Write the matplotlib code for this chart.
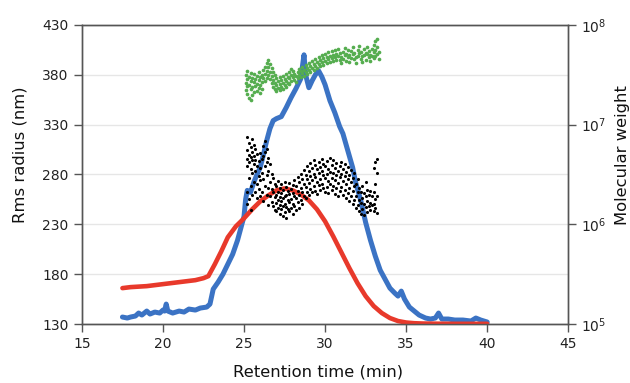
import matplotlib
matplotlib.use("Agg")
import matplotlib.pyplot as plt

# blue trace (read in left-axis units)
blue_t = [17.5, 17.8, 18.0, 18.3, 18.5, 18.7, 19.0, 19.2, 19.5, 19.8, 20.0, 20.1, 20.2, 20.3,
          20.6, 21.0, 21.3, 21.6, 22.0, 22.3, 22.7, 22.9, 23.1, 23.4, 23.7, 24.0, 24.3, 24.6,
          24.8, 25.0, 25.1, 25.2, 25.4, 25.6, 25.8, 26.0, 26.2, 26.4, 26.6, 26.8, 27.0, 27.3,
          27.6, 27.9, 28.2, 28.5, 28.7, 28.8, 29.0, 29.2, 29.4, 29.6, 29.8, 30.0, 30.3, 30.6,
          30.9, 31.1, 31.4, 31.7, 31.9, 32.2, 32.5, 32.8, 33.1, 33.4, 33.7, 34.0, 34.3, 34.5,
          34.7, 34.9, 35.2, 35.5, 35.8, 36.2, 36.5, 36.8, 37.0, 37.2, 37.6, 38.0, 38.5, 39.0,
          39.3, 39.6, 40.0]
blue_v = [137, 136, 137, 138, 141, 139, 143, 140, 142, 141, 144, 143, 150, 143,
          141, 143, 142, 145, 144, 146, 147, 150, 165, 172, 180, 190, 200, 214,
          226, 238, 255, 264, 262, 272, 280, 287, 300, 314, 326, 334, 336, 338,
          347, 357, 366, 376, 400, 380, 367, 374, 380, 384, 378, 370, 354, 342,
          328, 321, 304, 287, 271, 254, 232, 214, 198, 184, 175, 166, 161, 158,
          163, 155, 147, 143, 139, 136, 135, 136, 141, 135, 135, 134, 134, 133,
          136, 134, 132]

# red trace
red_t = [17.5, 18.0, 19.0, 20.0, 21.0, 22.0, 22.5, 22.8, 23.2, 23.6, 24.0, 24.5, 25.0, 25.5,
         26.0, 26.5, 27.0, 27.5, 28.0, 28.5, 29.0, 29.5, 30.0, 30.5, 31.0, 31.5, 32.0, 32.5,
         33.0, 33.5, 34.0, 34.5, 35.0, 35.5, 36.0, 37.0, 38.0, 40.0]
red_v = [166, 167, 168, 170, 172, 174, 176, 178, 190, 203, 217, 228, 236, 245,
         253, 259, 264, 266, 264, 260, 254, 245, 233, 218, 202, 186, 171, 158,
         148, 141, 136, 133, 131.5, 130.8, 130.5, 130.3, 130.2, 130.2]

# rms radius points (nm)
rms_t = [25.2]*6 + [25.3]*5 + [25.4]*5 + [25.5]*5 + [25.6]*4 + [25.7]*4 + [25.8]*4 + [25.9]*3 + \
        [26.0]*4 + [26.1]*3 + [26.2]*4 + [26.3]*4 + [26.4]*4 + [26.5]*4 + [26.6]*3 + [26.7]*3 + \
        [26.8]*3 + [26.9]*3 + [27.0]*4 + [27.1]*4 + [27.2]*4 + [27.3]*4 + [27.4]*4 + [27.5]*4 + \
        [27.6]*4 + [27.7]*3 + [27.8]*4 + [27.9]*3 + [28.0]*4 + [28.1]*3 + [28.2]*3 + [28.3]*3 + \
        [28.4]*3 + [28.5]*3 + [28.6]*3 + [28.7]*3 + [28.8]*3 + [28.9]*3 + [29.0]*3 + [29.1]*3 + \
        [29.2]*3 + [29.3]*3 + [29.4]*3 + [29.5]*3 + [29.6]*3 + [29.7]*3 + [29.8]*3 + [29.9]*3 + \
        [30.0]*3 + [30.1]*3 + [30.2]*3 + [30.3]*3 + [30.4]*3 + [30.5]*3 + [30.6]*3 + [30.7]*3 + \
        [30.8]*3 + [30.9]*3 + [31.0]*3 + [31.1]*3 + [31.2]*3 + [31.3]*3 + [31.4]*3 + [31.5]*3 + \
        [31.6]*3 + [31.7]*3 + [31.8]*3 + [31.9]*3 + [32.0]*3 + [32.1]*3 + [32.2]*3 + [32.3]*3 + \
        [32.4]*3 + [32.5]*3 + [32.6]*3 + [32.7]*2 + [32.8]*3 + [32.9]*2 + [33.0]*4 + [33.1]*4 + \
        [33.2]*4
rms_v = [318, 305, 296, 288, 262, 250,  312, 300, 292, 276, 255,  308, 298, 285, 268, 244,
         316, 303, 294, 281, 259,  310, 299, 290, 272,  306, 295, 283, 262,  301, 288, 270, 256,
         293, 278, 265,  302, 286, 274, 258,  296, 281, 262,  309, 299, 275, 253,
         314, 303, 288, 268,  306, 292, 279, 259,  297, 283, 266, 249,  290, 272, 258,
         280, 265, 252,  276, 262, 248,  270, 257, 244,  268, 259, 251, 243,
         273, 262, 254, 246,  266, 257, 249, 240,  270, 261, 253, 245,  264, 256, 248, 238,
         272, 258, 250, 242,  267, 259, 247, 236,  263, 254, 245,  271, 260, 252, 243,
         265, 255, 246,  269, 261, 250, 240,  274, 258, 248,  268, 256, 244,  277, 263, 252,
         272, 259, 246,  280, 266, 254,  275, 262, 250,  284, 270, 258,  279, 267, 256,
         288, 275, 262,  283, 271, 259,  291, 278, 265,  286, 274, 262,  294, 280, 268,
         289, 277, 263,  285, 272, 260,  292, 281, 269,  287, 275, 264,  296, 283, 270,
         290, 279, 266,  288, 276, 262,  293, 280, 267,  285, 273, 261,  297, 282, 270,
         289, 276, 264,  294, 281, 268,  286, 274, 260,  291, 279, 266,  283, 271, 258,
         288, 277, 263,  292, 280, 267,  285, 273, 259,  290, 278, 264,  282, 270, 256,
         287, 275, 261,  279, 266, 253,  284, 272, 258,  276, 263, 250,  281, 268, 254,
         270, 258, 246,  275, 262, 249,  266, 254, 243,  262, 251, 240,  268, 256, 245,
         261, 250, 239,  272, 258, 247,  264, 253, 242,  259, 248,  263, 251, 244,  258, 249,
         286, 262, 250, 243,  292, 270, 255, 246,  296, 281, 258, 241]

# molecular weight points, log10(MW)
mw_t = [25.1]*3 + [25.2]*4 + [25.3]*3 + [25.4]*4 + [25.5]*3 + [25.6]*3 + [25.7]*2 + [25.8]*3 + \
       [25.9]*3 + [26.0]*3 + [26.1]*3 + [26.2]*2 + [26.3]*3 + [26.4]*3 + [26.5]*3 + [26.6]*3 + \
       [26.7]*3 + [26.8]*3 + [26.9]*3 + [27.0]*3 + [27.1]*2 + [27.2]*3 + [27.3]*2 + [27.4]*3 + \
       [27.5]*2 + [27.6]*3 + [27.7]*2 + [27.8]*3 + [27.9]*3 + [28.0]*2 + [28.1]*2 + [28.2]*2 + \
       [28.3]*2 + [28.4]*2 + [28.5]*2 + [28.6]*2 + [28.7]*2 + [28.8]*2 + [28.9]*2 + [29.0]*2 + \
       [29.1]*2 + [29.2]*2 + [29.3]*2 + [29.4]*2 + [29.5]*2 + [29.6]*2 + [29.7]*2 + [29.8]*2 + \
       [29.9]*2 + [30.0]*2 + [30.1]*2 + [30.2]*2 + [30.3]*2 + [30.4]*2 + [30.5]*2 + [30.6]*2 + \
       [30.7]*2 + [30.8]*2 + [30.9]*2 + [31.0]*2 + [31.1]*2 + [31.2]*2 + [31.3]*2 + [31.4]*2 + \
       [31.5]*2 + [31.6]*2 + [31.7]*2 + [31.8]*2 + [31.9]*2 + [32.0]*2 + [32.1]*2 + [32.2]*2 + \
       [32.3]*2 + [32.4]*2 + [32.5]*2 + [32.6]*2 + [32.7]*2 + [32.8]*2 + [32.9]*2 + [33.0]*3 + \
       [33.1]*3 + [33.2]*3 + [33.3]*2
mw_log = [7.50, 7.42, 7.35,  7.54, 7.46, 7.39, 7.31,  7.48, 7.40, 7.27,  7.52, 7.44, 7.36, 7.25,
          7.47, 7.38, 7.30,  7.51, 7.43, 7.33,  7.46, 7.39,  7.49, 7.41, 7.34,  7.53, 7.45, 7.37,
          7.48, 7.40, 7.32,  7.50, 7.43, 7.36,  7.55, 7.47,  7.58, 7.51, 7.44,  7.62, 7.54, 7.47,
          7.65, 7.58, 7.50,  7.61, 7.53, 7.46,  7.57, 7.49, 7.42,  7.53, 7.45, 7.38,
          7.50, 7.42, 7.36,  7.47, 7.40, 7.34,  7.44, 7.37,  7.48, 7.41, 7.35,  7.45, 7.38,
          7.49, 7.42, 7.36,  7.46, 7.40,  7.51, 7.44, 7.38,  7.48, 7.42,  7.53, 7.47, 7.41,
          7.56, 7.50, 7.44,  7.54, 7.48,  7.51, 7.45,  7.49, 7.43,  7.53, 7.47,  7.56, 7.50,
          7.54, 7.48,  7.58, 7.52,  7.55, 7.49,  7.60, 7.53,  7.57, 7.51,  7.62, 7.55,
          7.59, 7.53,  7.64, 7.57,  7.61, 7.55,  7.66, 7.59,  7.63, 7.57,  7.68, 7.61,
          7.65, 7.59,  7.70, 7.63,  7.67, 7.60,  7.71, 7.64,  7.68, 7.62,  7.73, 7.66,
          7.69, 7.63,  7.74, 7.67,  7.70, 7.64,  7.75, 7.68,  7.71, 7.65,  7.76, 7.69,
          7.72, 7.65,  7.68, 7.62,  7.73, 7.66,  7.77, 7.70,  7.71, 7.64,  7.75, 7.68,
          7.70, 7.63,  7.74, 7.67,  7.78, 7.71,  7.72, 7.66,  7.68, 7.62,  7.75, 7.69,
          7.79, 7.72,  7.73, 7.66,  7.69, 7.63,  7.76, 7.70,  7.72, 7.65,  7.78, 7.71,
          7.74, 7.68,  7.70, 7.64,  7.76, 7.69,  7.80, 7.73, 7.67,  7.84, 7.75, 7.69,
          7.86, 7.78, 7.71,  7.73, 7.66]

fig = plt.figure(figsize=(6.3, 3.83), dpi=100)
ax = fig.add_axes([0.130, 0.154, 0.772, 0.781])
ax2 = ax.twinx()

ax.plot(blue_t, blue_v, color='#3b73c4', lw=3.6, solid_capstyle='round', zorder=3)
ax.plot(red_t, red_v, color='#e8392b', lw=3.3, solid_capstyle='round', zorder=4)
ax.scatter(rms_t, rms_v, s=5, color='black', marker='o', linewidths=0, zorder=5)
ax2.scatter(mw_t, [10 ** v for v in mw_log], s=7, color='#55ad4f', linewidths=0, zorder=5)

ax.set_xlim(15, 45)
ax.set_ylim(130, 430)
ax.set_xticks([15, 20, 25, 30, 35, 40, 45])
ax.set_yticks([130, 180, 230, 280, 330, 380, 430])
ax.grid(axis='y', color='#e6e6e6', lw=1.0)
ax.set_axisbelow(True)

ax2.set_yscale('log')
ax2.set_ylim(1e5, 1e8)
ax2.set_yticks([1e5, 1e6, 1e7, 1e8])
ax2.minorticks_off()

spine_c = '#555555'
for a in (ax, ax2):
    for s in a.spines.values():
        s.set_color(spine_c)
        s.set_linewidth(1.0)
    a.tick_params(colors='#222222', labelsize=10, length=6, width=1.0, direction='out')
    a.tick_params(axis='both', color=spine_c)

lab_kw = dict(fontsize=11.8, color='#111111', ha='center', va='center')
fig.text(318 / 630, 1 - 372 / 383, 'Retention time (min)', **lab_kw)
fig.text(20 / 630, 1 - 155 / 383, 'Rms radius (nm)', rotation=90, **lab_kw)
fig.text(622 / 630, 1 - 155 / 383, 'Molecular weight', rotation=90, **lab_kw)

fig.savefig('out.png', dpi=100)
